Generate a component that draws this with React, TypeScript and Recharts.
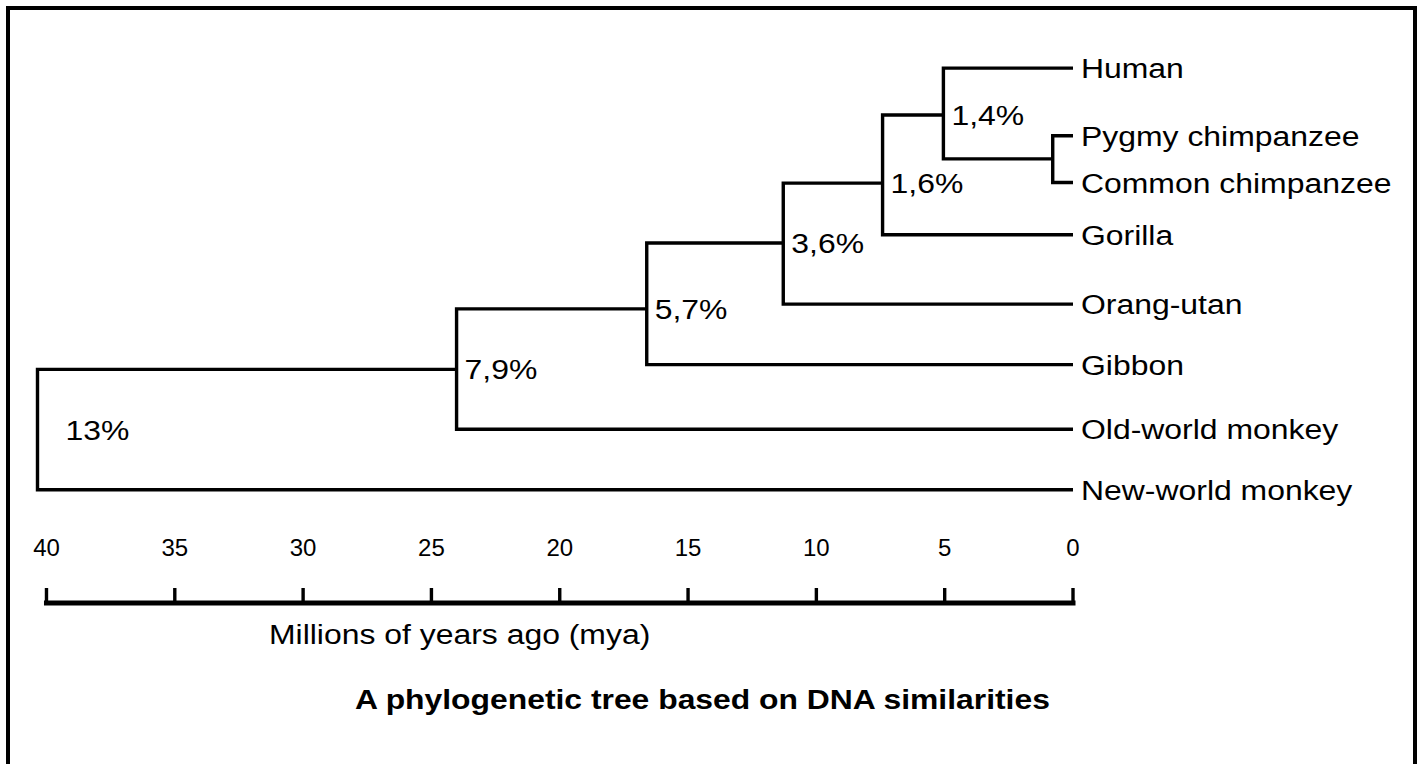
import React from 'react';
import {ComposedChart, Line, ReferenceLine, Scatter, XAxis, YAxis} from 'recharts';

const FONT = '"Liberation Sans", Arial, Helvetica, sans-serif';

// leaves, top to bottom (row = vertical slot on the hidden y axis)
const leafNames = [
  'Human',
  'Pygmy chimpanzee',
  'Common chimpanzee',
  'Gorilla',
  'Orang-utan',
  'Gibbon',
  'Old-world monkey',
  'New-world monkey',
];
const leafRows = [0.98, 2.12, 2.91, 3.79, 4.96, 5.98, 7.07, 8.09];

// splits: age in mya, row where the branch joins its parent, DNA difference
const nodeIds = ['chimps', 'humanChimp', 'africanApes', 'greatApes', 'apes', 'catarrhines', 'primates'];
const nodeAges = [0.79, 5.05, 7.42, 11.29, 16.61, 24.02, 40.35];
const nodeRows = [2.51, 1.77, 2.92, 3.93, 5.04, 6.06, 7.08];
const nodeLabels = ['', '1,4%', '1,6%', '3,6%', '5,7%', '7,9%', '13%'];
const nodeChildren = [
  ['Pygmy chimpanzee', 'Common chimpanzee'],
  ['Human', 'chimps'],
  ['humanChimp', 'Gorilla'],
  ['africanApes', 'Orang-utan'],
  ['greatApes', 'Gibbon'],
  ['apes', 'Old-world monkey'],
  ['catarrhines', 'New-world monkey'],
];

const ageTicks = [40, 35, 30, 25, 20, 15, 10, 5, 0];
const rowDomain: [number, number] = [0, 10];

const pos = (id: string) => {
  const i = leafNames.indexOf(id);
  if (i >= 0) return {x: 0, y: leafRows[i]};
  const j = nodeIds.indexOf(id);
  return {x: nodeAges[j], y: nodeRows[j]};
};

// one elbow path per split: child1 -> split -> child2
const branches = nodeIds.map((id, i) => {
  const [a, b] = nodeChildren[i].map(pos);
  return {
    id,
    data: [
      {x: a.x, y: a.y},
      {x: nodeAges[i], y: a.y},
      {x: nodeAges[i], y: b.y},
      {x: b.x, y: b.y},
    ],
  };
});

const leafPoints = leafNames.map((name, i) => ({x: 0, y: leafRows[i], name}));
const nodePoints = nodeIds
  .map((id, i) => ({x: nodeAges[i], y: nodeRows[i], id, label: nodeLabels[i]}))
  .filter((d) => d.label);
const rootId = nodeIds[nodeIds.length - 1];

function Stretched({x, y, size, sx, weight, children}: any) {
  return (
    <text
      transform={`translate(${x} ${y}) scale(${sx} 1)`}
      fontFamily={FONT}
      fontSize={size}
      fontWeight={weight || 'normal'}
      fill="#000"
    >
      {children}
    </text>
  );
}

const LeafLabel = (props: any) => {
  const {cx, cy, payload} = props;
  return (
    <Stretched x={cx + 8} y={cy + 10} size={28} sx={1.14}>
      {payload.name}
    </Stretched>
  );
};

const NodeLabel = (props: any) => {
  const {cx, cy, payload} = props;
  const dx = payload.id === rootId ? 28 : 8;
  return (
    <Stretched x={cx + dx} y={cy + 10} size={28} sx={1.14}>
      {payload.label}
    </Stretched>
  );
};

const AgeTick = (props: any) => {
  const {x, y, payload} = props;
  return (
    <g>
      <line x1={x} y1={y} x2={x} y2={y - 15} stroke="#000" strokeWidth={3.4} />
      <text x={x} y={y - 47} textAnchor="middle" fontFamily={FONT} fontSize={24} fill="#000">
        {payload.value}
      </text>
    </g>
  );
};

export default function App() {
  return (
    <div style={{position: 'fixed', left: 0, top: 0, width: 1420, height: 764, background: '#fff', overflow: 'hidden'}}>
      <div
        style={{
          position: 'absolute',
          left: 6,
          top: 6,
          width: 1411,
          height: 820,
          border: '4px solid #000',
          boxSizing: 'border-box',
        }}
      />
      <div style={{position: 'absolute', left: 0, top: 0}}>
        <ComposedChart width={1420} height={764} margin={{top: 10, right: 347, bottom: 160, left: 37.5}}>
          <XAxis
            type="number"
            dataKey="x"
            reversed
            domain={[0, Math.max(...nodeAges)]}
            ticks={ageTicks}
            interval={0}
            height={1}
            axisLine={false}
            tickLine={false}
            tickSize={0}
            tickMargin={0}
            tick={<AgeTick />}
          />
          <YAxis type="number" dataKey="y" hide reversed domain={rowDomain} />
          <ReferenceLine
            segment={[
              {x: Math.max(...ageTicks), y: rowDomain[1]},
              {x: Math.min(...ageTicks), y: rowDomain[1]},
            ]}
            stroke="#000"
            strokeWidth={5}
            strokeLinecap="square"
          />
          {branches.map((b) => (
            <Line
              key={b.id}
              data={b.data}
              dataKey="y"
              type="linear"
              stroke="#000"
              strokeWidth={3.4}
              strokeLinejoin="miter"
              dot={false}
              activeDot={false}
              isAnimationActive={false}
            />
          ))}
          <Scatter data={leafPoints} dataKey="y" shape={LeafLabel} isAnimationActive={false} />
          <Scatter data={nodePoints} dataKey="y" shape={NodeLabel} isAnimationActive={false} />
        </ComposedChart>
      </div>
      <svg width={1420} height={764} style={{position: 'absolute', left: 0, top: 0, pointerEvents: 'none'}}>
        <Stretched x={269} y={644} size={28} sx={1.14}>
          Millions of years ago (mya)
        </Stretched>
        <Stretched x={355} y={709} size={27} sx={1.18} weight="bold">
          A phylogenetic tree based on DNA similarities
        </Stretched>
      </svg>
    </div>
  );
}
